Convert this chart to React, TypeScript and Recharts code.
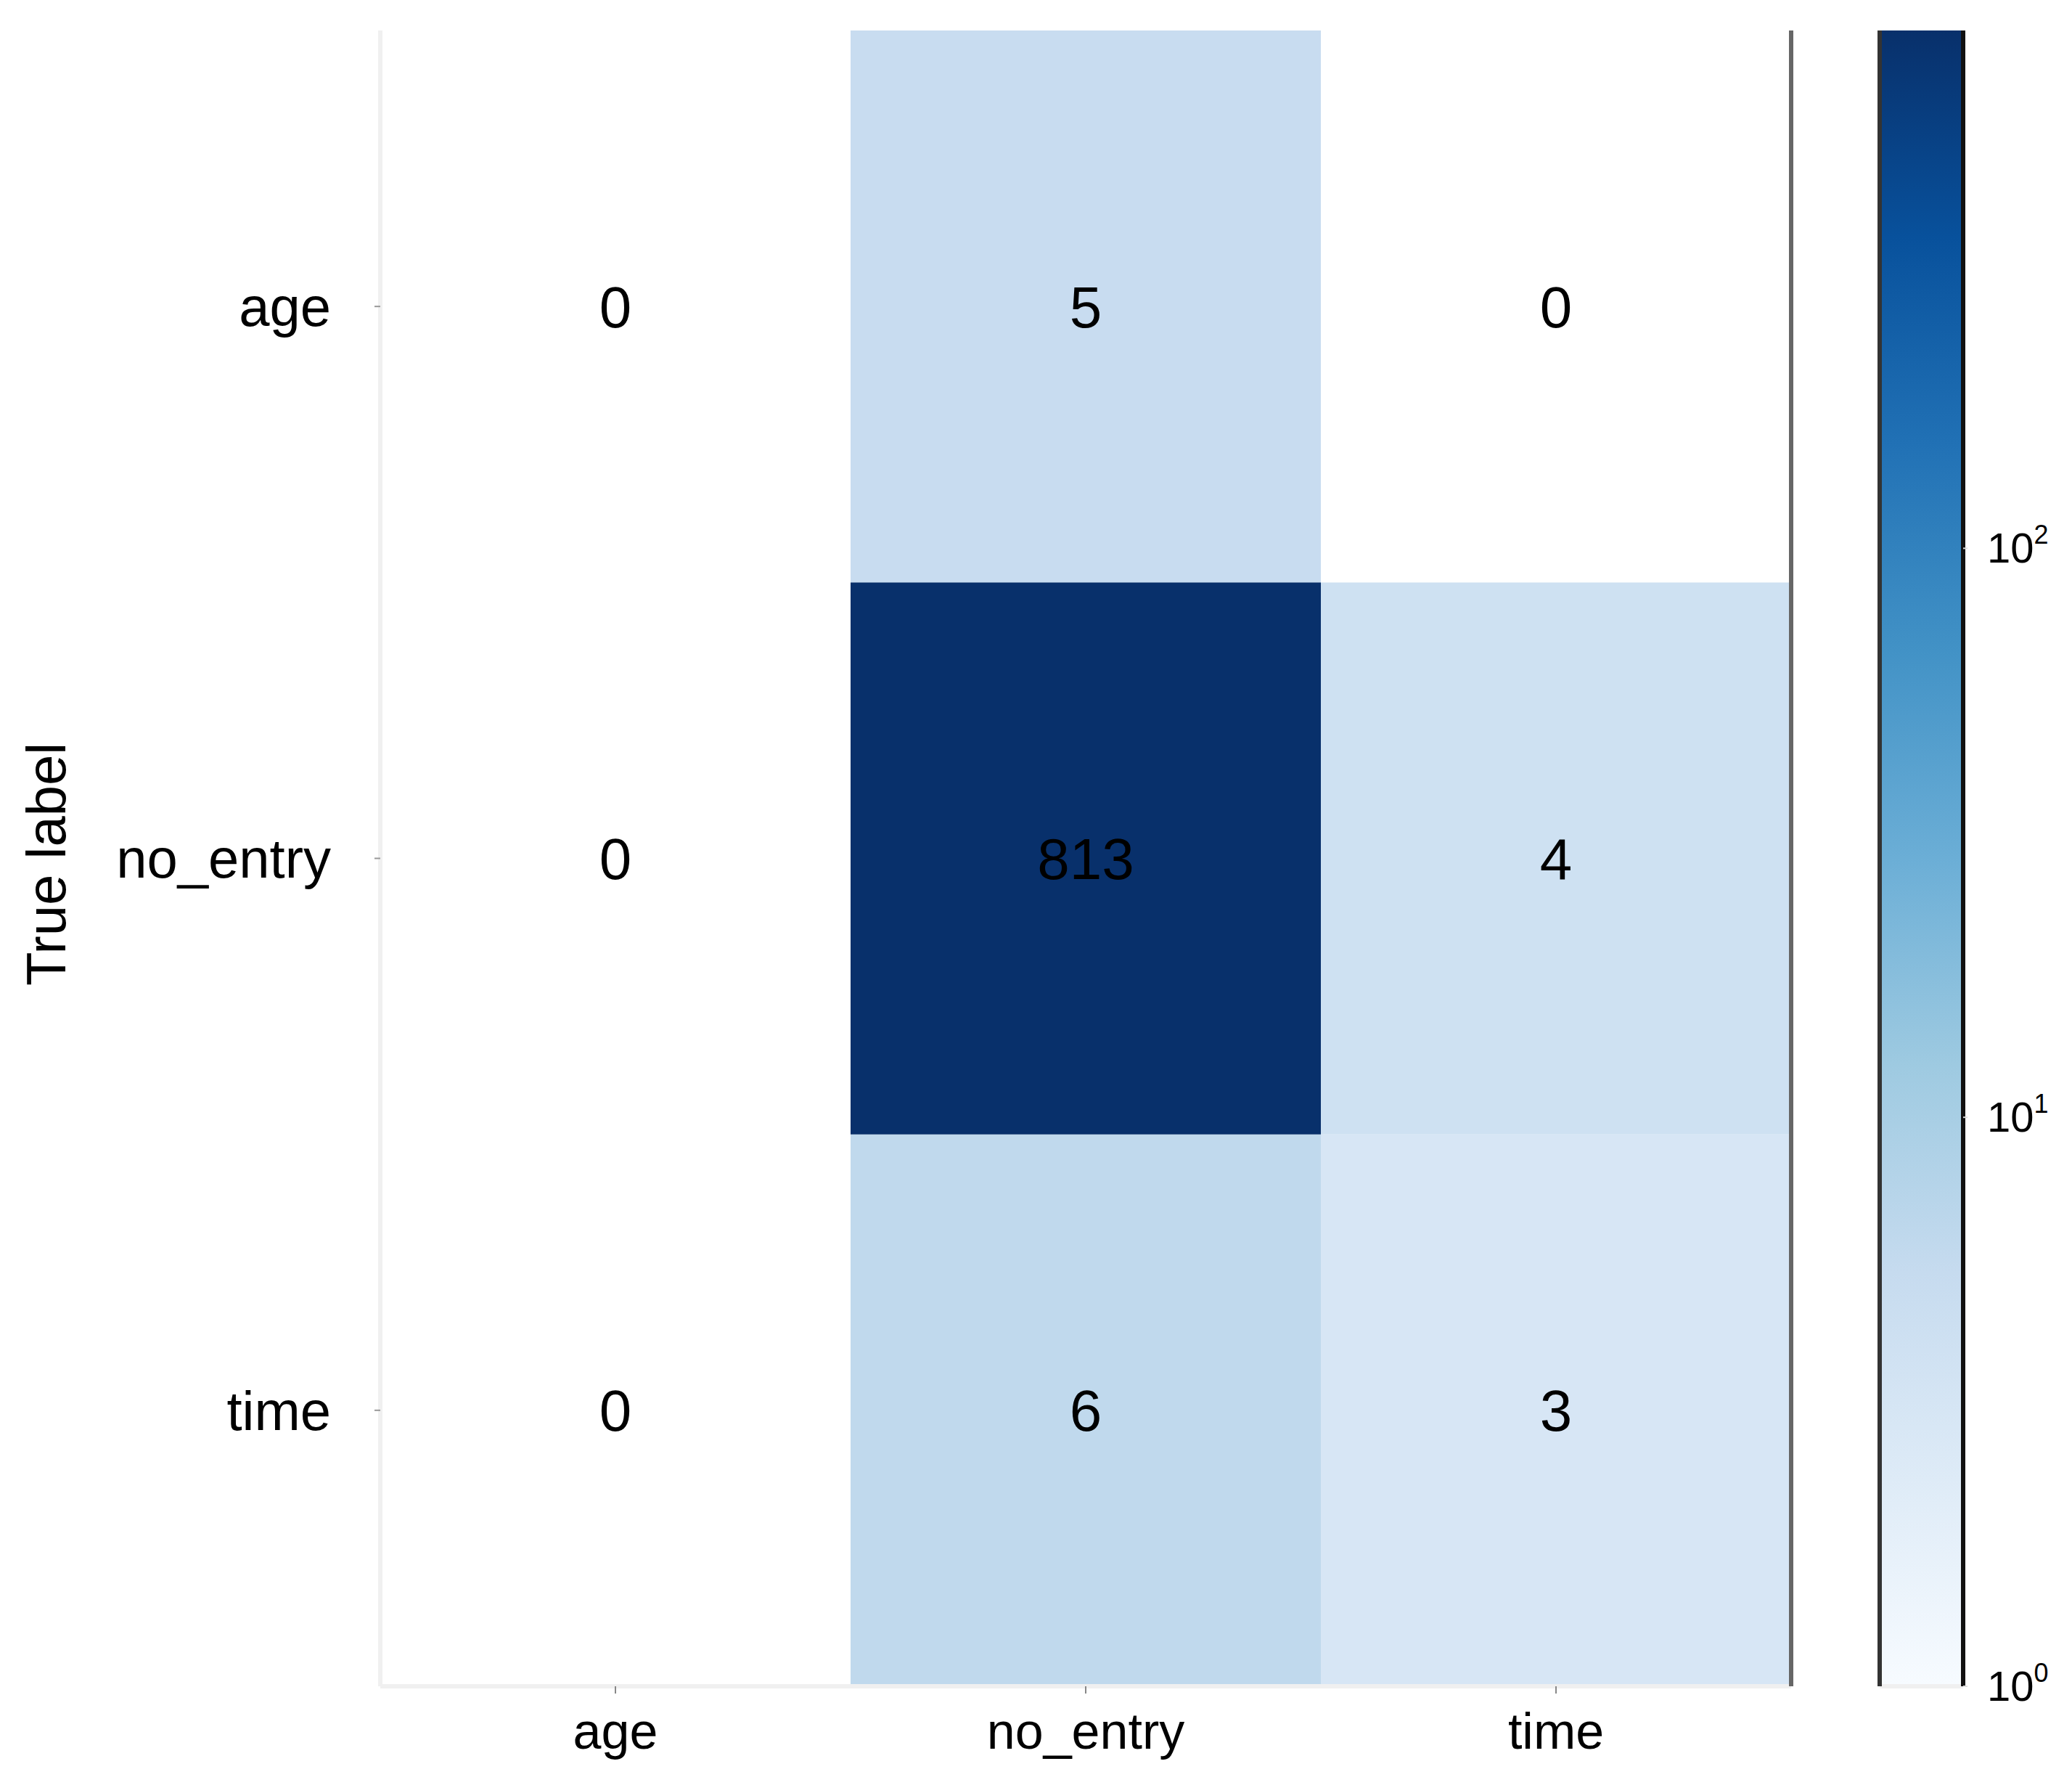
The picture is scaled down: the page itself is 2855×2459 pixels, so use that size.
import React from "react";
import { BarChart, Bar, XAxis, YAxis, Cell, LabelList } from "recharts";

const FONT = "'Liberation Sans', Arial, sans-serif";

// class names, used for both axes
const classes = ["age", "no_entry", "time"];

// confusion matrix rows (true label), columns = predicted label
const ageRow = [0, 5, 0];
const noEntryRow = [0, 813, 4];
const timeRow = [0, 6, 3];
const counts = [ageRow, noEntryRow, timeRow];

// colorbar ticks as powers of ten
const colorbarTicks = [0, 1, 2];

// matplotlib "Blues"
const blues = [
  "#f7fbff",
  "#deebf7",
  "#c6dbef",
  "#9ecae1",
  "#6baed6",
  "#4292c6",
  "#2171b5",
  "#08519c",
  "#08306b",
];

const hexToRgb = (h: string) => [1, 3, 5].map((i) => parseInt(h.slice(i, i + 2), 16));

function bluesAt(t: number) {
  const tt = Math.max(0, Math.min(1, t));
  const p = tt * (blues.length - 1);
  const i = Math.min(Math.floor(p), blues.length - 2);
  const f = p - i;
  const a = hexToRgb(blues[i]);
  const b = hexToRgb(blues[i + 1]);
  const c = a.map((v, k) => Math.round(v + (b[k] - v) * f));
  return `rgb(${c[0]},${c[1]},${c[2]})`;
}

const vmax = Math.max(...counts.flat());
const cellColor = (v: number) => (v <= 0 ? "#ffffff" : bluesAt(Math.log(v) / Math.log(vmax)));

// one stacked column per predicted class; each segment is one true-label row
const barData = classes.map((pred, c) => {
  const row: any = { pred };
  classes.forEach((name, r) => {
    row[name] = 1;
    row[`${name}_n`] = counts[r][c];
  });
  return row;
});

const cbMax = Math.log10(vmax);
const cbData = [{ name: "cb", v: cbMax }];

function YTitle(props: any) {
  const vb = props.viewBox || { x: 0, y: 42, width: 524, height: 2281 };
  const x = vb.x + 63;
  const y = vb.y + vb.height / 2 + 8;
  return (
    <text
      x={x}
      y={y}
      transform={`rotate(-90, ${x}, ${y})`}
      textAnchor="middle"
      dominantBaseline="central"
      fontSize={76}
      fontFamily={FONT}
      fill="#000"
    >
      True label
    </text>
  );
}

function PowTick(props: any) {
  const { x, y, payload } = props;
  return (
    <text x={x} y={y} dy={20} textAnchor="start" fontSize={58} fontFamily={FONT} fill="#000">
      <tspan>10</tspan>
      <tspan dy={-26} fontSize={36}>
        {payload.value}
      </tspan>
    </text>
  );
}

export default function App() {
  const stackOrder = [2, 1, 0]; // bottom to top: time, no_entry, age

  return (
    <div style={{ position: "absolute", left: 0, top: 0, width: 2855, height: 2459, background: "#fff" }}>
      <div style={{ position: "absolute", left: 0, top: 0 }}>
        <BarChart
          width={2855}
          height={2459}
          data={barData}
          margin={{ top: 42, right: 385, bottom: 0, left: 0 }}
          barCategoryGap={0}
          barGap={0}
        >
          <XAxis
            dataKey="pred"
            height={136}
            interval={0}
            tickSize={10}
            tickMargin={26}
            axisLine={{ stroke: "#f0f0f0", strokeWidth: 6 }}
            tickLine={{ stroke: "#888", strokeWidth: 2 }}
            tick={{ fontSize: 70, fill: "#000", fontFamily: FONT }}
          />
          <XAxis
            xAxisId="top"
            orientation="top"
            dataKey="pred"
            height={0}
            tick={false}
            tickLine={false}
            axisLine={{ stroke: "#f7f7f7", strokeWidth: 6 }}
          />
          <YAxis
            type="number"
            domain={[0, 3]}
            allowDataOverflow
            ticks={[0.5, 1.5, 2.5]}
            width={524}
            tickSize={8}
            tickMargin={60}
            tickFormatter={(v: number) => classes[2 - Math.floor(v)]}
            axisLine={{ stroke: "#f0f0f0", strokeWidth: 6 }}
            tickLine={{ stroke: "#999", strokeWidth: 2 }}
            tick={{ fontSize: 76, fill: "#000", fontFamily: FONT }}
            label={{ content: (p: any) => <YTitle {...p} /> }}
          />
          <YAxis
            yAxisId="right"
            orientation="right"
            type="number"
            domain={[0, 3]}
            width={2}
            tick={false}
            tickLine={false}
            axisLine={{ stroke: "#666", strokeWidth: 6 }}
          />
          {stackOrder.map((r) => (
            <Bar key={classes[r]} dataKey={classes[r]} stackId="cm" isAnimationActive={false}>
              {classes.map((_, c) => (
                <Cell key={c} fill={cellColor(counts[r][c])} />
              ))}
              <LabelList
                dataKey={`${classes[r]}_n`}
                position="center"
                fill="#000"
                fontSize={80}
                fontFamily={FONT}
              />
            </Bar>
          ))}
        </BarChart>
      </div>

      <div style={{ position: "absolute", left: 2560, top: 0 }}>
        <BarChart
          width={295}
          height={2459}
          data={cbData}
          margin={{ top: 42, right: 50, bottom: 0, left: 20 }}
          barCategoryGap={0}
        >
          <defs>
            <linearGradient id="cbGrad" x1="0" y1="1" x2="0" y2="0">
              {blues.map((c, i) => (
                <stop key={i} offset={i / (blues.length - 1)} stopColor={c} />
              ))}
            </linearGradient>
          </defs>
          <XAxis
            dataKey="name"
            height={136}
            tick={false}
            tickLine={false}
            axisLine={{ stroke: "#f0f0f0", strokeWidth: 6 }}
          />
          <YAxis
            yAxisId="l"
            type="number"
            width={10}
            domain={[0, 1]}
            tick={false}
            tickLine={false}
            axisLine={{ stroke: "#333", strokeWidth: 6 }}
          />
          <YAxis
            yAxisId="r"
            orientation="right"
            type="number"
            width={100}
            domain={[0, cbMax]}
            allowDataOverflow
            ticks={colorbarTicks}
            tickSize={6}
            tickMargin={27}
            tick={<PowTick />}
            axisLine={{ stroke: "#111", strokeWidth: 6 }}
            tickLine={{ stroke: "#ddd", strokeWidth: 2 }}
          />
          <Bar dataKey="v" yAxisId="r" fill="url(#cbGrad)" isAnimationActive={false} />
        </BarChart>
      </div>
    </div>
  );
}
